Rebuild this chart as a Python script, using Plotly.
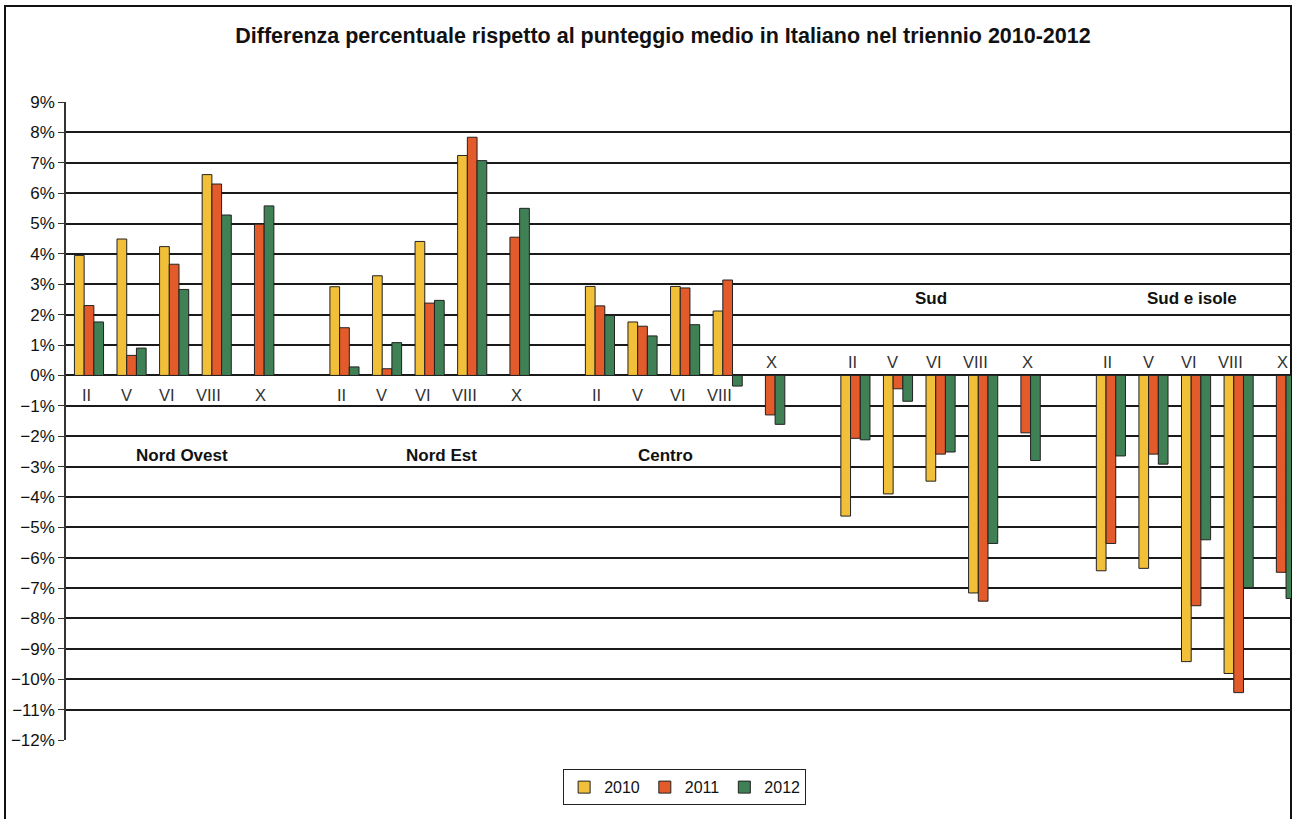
import plotly.graph_objects as go

# Regions and school grades (classes) on the category axis
regions = ["Nord Ovest", "Nord Est", "Centro", "Sud", "Sud e isole"]
grades = ["II", "V", "VI", "VIII", "X"]
years = ["2010", "2011", "2012"]

# Percentage difference from the national mean score, per region and grade
# (None = grade not tested that year)
v2010 = [
    [3.95, 4.49, 4.24, 6.61, None],      # Nord Ovest
    [2.92, 3.28, 4.41, 7.24, None],      # Nord Est
    [2.93, 1.76, 2.93, 2.12, None],      # Centro
    [-4.63, -3.90, -3.48, -7.16, None],  # Sud
    [-6.43, -6.35, -9.42, -9.81, None],  # Sud e isole
]
v2011 = [
    [2.30, 0.66, 3.66, 6.30, 4.98],
    [1.57, 0.22, 2.38, 7.84, 4.55],
    [2.29, 1.62, 2.88, 3.14, -1.30],
    [-2.07, -0.44, -2.59, -7.43, -1.89],
    [-5.53, -2.59, -7.58, -10.44, -6.48],
]
v2012 = [
    [1.76, 0.90, 2.83, 5.28, 5.58],
    [0.28, 1.08, 2.47, 7.07, 5.50],
    [1.97, 1.30, 1.67, -0.35, -1.61],
    [-2.12, -0.85, -2.52, -5.53, -2.80],
    [-2.65, -2.92, -5.41, -6.98, -7.34],
]

colors = {"2010": "#F2BF38", "2011": "#E35B2A", "2012": "#3F8155"}
FONT = "Arial, 'Liberation Sans', sans-serif"

# Each region takes six slots: five grades plus one empty spacer slot
SLOTS = 6
xpos = [r * SLOTS + g for r in range(len(regions)) for g in range(len(grades))]

fig = go.Figure()
for year, vals in zip(years, [v2010, v2011, v2012]):
    flat = [v for row in vals for v in row]
    fig.add_trace(go.Bar(
        x=xpos, y=flat, name=year,
        marker=dict(color=colors[year], line=dict(color="#222222", width=1)),
        hoverinfo="x+y",
    ))

# Grade labels: under the zero line for the northern/central regions,
# above it where the bars go down
label_shift = [-0.07, -0.12, -0.16, -0.19, 0.03]
annotations = []
for r, region in enumerate(regions):
    for g, grade in enumerate(grades):
        below = r < 2 or (r == 2 and g < 4)
        annotations.append(dict(
            x=r * SLOTS + g + label_shift[g], y=-0.64 if below else 0.44,
            xref="x", yref="y", text=grade, showarrow=False,
            font=dict(family=FONT, size=16.5, color="#333333"),
            xanchor="center", yanchor="middle",
        ))

# Region names
region_x = [2.18, 8.27, 13.53, 19.78, 25.9]
region_y = [-2.65, -2.65, -2.65, 2.52, 2.52]
for name, rx, ry in zip(regions, region_x, region_y):
    annotations.append(dict(
        x=rx, y=ry, xref="x", yref="y", text="<b>%s</b>" % name,
        showarrow=False, font=dict(family=FONT, size=17, color="#111111"),
        xanchor="center", yanchor="middle",
    ))

fig.update_layout(
    width=1293, height=819,
    margin=dict(l=66, r=2, t=102, b=79),
    paper_bgcolor="white", plot_bgcolor="white",
    font=dict(family=FONT, size=16, color="#111111"),
    title=dict(
        text="<b>Differenza percentuale rispetto al punteggio medio in Italiano nel triennio 2010-2012</b>",
        x=663 / 1293, xref="container", xanchor="center",
        y=1 - 35 / 819, yref="container", yanchor="middle",
        font=dict(family=FONT, size=21.5, color="#111111"),
    ),
    barmode="group", bargap=0.316, bargroupgap=0,
    xaxis=dict(
        range=[-0.54, 28.23], showticklabels=False, showgrid=False,
        zeroline=False, showline=False, ticks="",
    ),
    yaxis=dict(
        range=[-12, 9], dtick=1, tick0=0, ticksuffix="%",
        showgrid=True, gridcolor="#1a1a1a", gridwidth=1.6,
        zeroline=True, zerolinecolor="#1a1a1a", zerolinewidth=1.6,
        showline=True, linecolor="#333333", linewidth=1.5,
        ticks="outside", ticklen=6, tickcolor="#333333", tickwidth=1,
        tickfont=dict(family=FONT, size=17, color="#111111"),
    ),
    legend=dict(
        orientation="h", x=0.505, xanchor="center", y=-0.074, yanchor="middle",
        bordercolor="#222222", borderwidth=1, bgcolor="white",
        font=dict(family=FONT, size=16, color="#111111"),
        itemwidth=30, tracegroupgap=0,
    ),
    annotations=annotations,
    shapes=[dict(
        type="rect", xref="paper", yref="paper",
        x0=(5 - 66) / 1225, x1=1.0, y0=-0.15, y1=(740 - 6) / 638,
        line=dict(color="#111111", width=2), fillcolor="rgba(0,0,0,0)",
        layer="below",
    )],
)

fig.write_html("out.html")
